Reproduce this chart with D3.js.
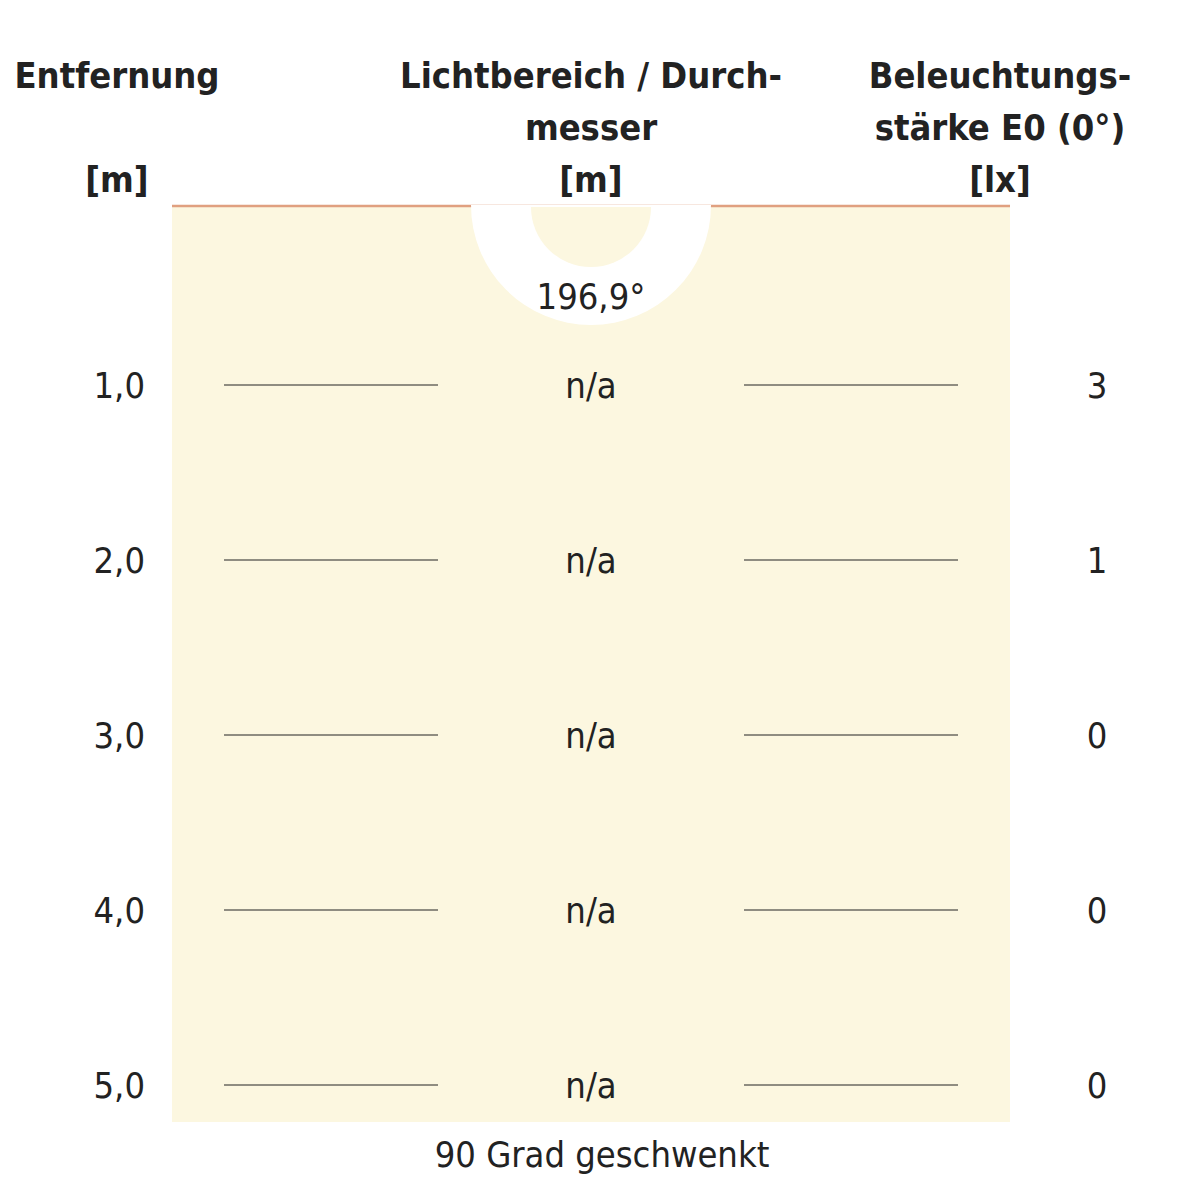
<!DOCTYPE html>
<html><head><meta charset="utf-8">
<script src="https://cdn.jsdelivr.net/npm/d3@7"></script>
<style>body{margin:0;background:#fff}</style>
</head><body><div id="chart"></div>
<script>
// values
const distances = [1, 2, 3, 4, 5];
const diameters = ["n/a", "n/a", "n/a", "n/a", "n/a"];
const illuminance = [3, 1, 0, 0, 0];
const beamAngle = "196,9°";
const footer = "90 Grad geschwenkt";

const W = 1182, H = 1182;
const font = "'Liberation Sans Narrow', 'DejaVu Sans Condensed', Arial, sans-serif";
const svg = d3.select("#chart").append("svg").attr("width", W).attr("height", H)
    .style("font-family", font);

// vertical scale: distance -> row position
const y = d3.scaleLinear().domain([1, 5]).range([385, 1085]);
const cx = 591, topY = 205;

svg.append("rect").attr("x", 172).attr("y", topY).attr("width", 838).attr("height", 917).attr("fill", "#fcf7e0");
svg.append("line").attr("x1", 172).attr("x2", 1010).attr("y1", topY + 1).attr("y2", topY + 1)
    .attr("stroke", "#e0a080").attr("stroke-width", 2.5);

// beam symbol
const arc = d3.arc();
svg.append("path").attr("transform", `translate(${cx},${topY})`)
    .attr("d", arc({innerRadius: 0, outerRadius: 120, startAngle: Math.PI / 2, endAngle: 3 * Math.PI / 2}))
    .attr("fill", "#fff");
svg.append("path").attr("transform", `translate(${cx},${topY + 2})`)
    .attr("d", arc({innerRadius: 0, outerRadius: 60, startAngle: Math.PI / 2, endAngle: 3 * Math.PI / 2}))
    .attr("fill", "#fcf7e0");
svg.append("text").attr("x", cx).attr("y", 309).attr("text-anchor", "middle")
    .attr("font-size", 36).attr("fill", "#222").text(beamAngle);

// headers
const headers = [
    {x: 117, lines: ["Entfernung", "", "[m]"]},
    {x: 591, lines: ["Lichtbereich / Durch-", "messer", "[m]"]},
    {x: 1000, lines: ["Beleuchtungs-", "stärke E0 (0°)", "[lx]"]}
];
headers.forEach(h => {
    h.lines.forEach((t, i) => {
        svg.append("text").attr("x", h.x).attr("y", 88 + i * 52).attr("text-anchor", "middle")
            .attr("font-size", 36).attr("font-weight", "bold").attr("fill", "#222").text(t);
    });
});

const rows = svg.selectAll("g.row").data(distances).enter().append("g").attr("class", "row");
rows.append("text").attr("x", 145).attr("y", d => y(d) + 13).attr("text-anchor", "end")
    .attr("font-size", 36).attr("fill", "#222").text(d => d.toFixed(1).replace(".", ","));
rows.append("line").attr("x1", 224).attr("x2", 438).attr("y1", d => y(d)).attr("y2", d => y(d))
    .attr("stroke", "#222").attr("stroke-width", 1);
rows.append("line").attr("x1", 744).attr("x2", 958).attr("y1", d => y(d)).attr("y2", d => y(d))
    .attr("stroke", "#222").attr("stroke-width", 1);
rows.append("text").attr("x", cx).attr("y", d => y(d) + 13).attr("text-anchor", "middle")
    .attr("font-size", 36).attr("fill", "#222").text((d, i) => diameters[i]);
rows.append("text").attr("x", 1097).attr("y", d => y(d) + 13).attr("text-anchor", "middle")
    .attr("font-size", 36).attr("fill", "#222").text((d, i) => illuminance[i]);

svg.append("text").attr("x", 602).attr("y", 1167).attr("text-anchor", "middle")
    .attr("font-size", 36).attr("fill", "#222").text(footer);
</script></body></html>
